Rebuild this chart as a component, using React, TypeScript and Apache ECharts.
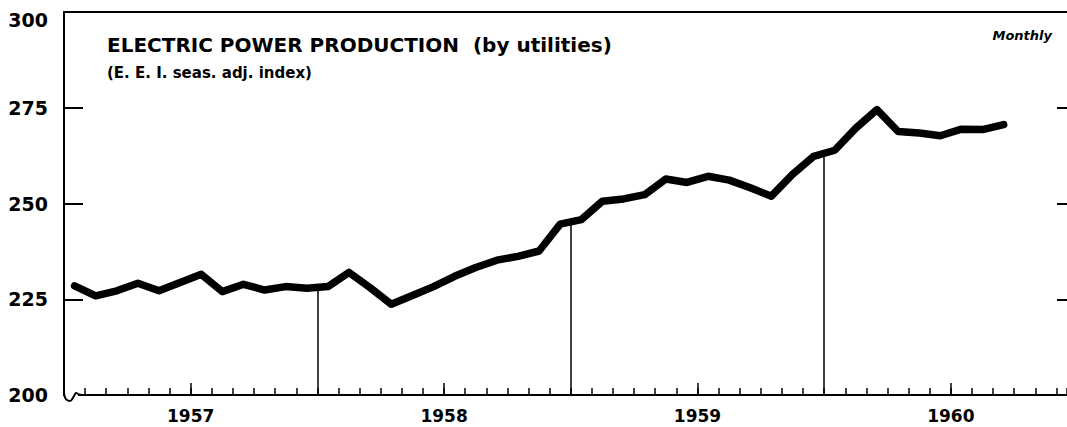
import React, { useEffect, useRef } from "react";
import * as echarts from "echarts";

const years = ["1957", "1958", "1959", "1960"];
const yearMidMonths = [6, 18, 30, 42];
const yearEndMonths = [12, 24, 36];
const yTicks = [200, 225, 250, 275, 300];

const values1957 = [228.5, 225.9, 227.2, 229.2, 227.2, 229.4, 231.5, 227.0, 228.9, 227.4, 228.3, 227.9];
const values1958 = [228.3, 232.0, 228.0, 223.7, 226.0, 228.3, 231.0, 233.3, 235.2, 236.2, 237.6, 244.6];
const values1959 = [245.8, 250.6, 251.2, 252.3, 256.4, 255.5, 257.1, 256.1, 254.1, 251.9, 257.6, 262.3];
const values1960 = [263.9, 269.7, 274.5, 268.8, 268.4, 267.7, 269.4, 269.3, 270.6];

const values = [...values1957, ...values1958, ...values1959, ...values1960];

const FONT = "DejaVu Sans";

export default function App() {
  const ref = useRef<HTMLDivElement>(null);
  useEffect(() => {
    if (!ref.current) return;
    const chart = echarts.init(ref.current, null, { renderer: "svg" });
    const lineData = values.map((v, i) => [i + 0.5, v]);
    const dropLines = yearEndMonths.map((m) => [
      { coord: [m, yTicks[0]] },
      { coord: [m, (values[m - 1] + values[m]) / 2] },
    ]);
    const yMax = yTicks[yTicks.length - 1];
    chart.setOption({
      animation: false,
      backgroundColor: "#fff",
      grid: { left: 64, right: 0, top: 12, bottom: 32 },
      xAxis: [
        {
          type: "value",
          min: 0,
          max: 47.5,
          interval: 1,
          position: "bottom",
          axisLine: { show: true, onZero: false, lineStyle: { color: "#000", width: 2 } },
          axisTick: { show: true, inside: true, length: 7, lineStyle: { color: "#000", width: 1.5 } },
          axisLabel: { show: false },
          splitLine: { show: false },
        },
        {
          type: "value",
          min: 0,
          max: 47.5,
          position: "bottom",
          axisLine: { show: false, onZero: false },
          axisTick: {
            show: true,
            inside: true,
            length: 12,
            customValues: yearMidMonths,
            lineStyle: { color: "#000", width: 1.5 },
          },
          axisLabel: {
            show: true,
            customValues: yearMidMonths,
            formatter: (v: number) => years[yearMidMonths.indexOf(Math.round(v))] ?? "",
            color: "#000",
            fontFamily: FONT,
            fontWeight: "bold",
            fontSize: 17,
            margin: 12,
          },
          splitLine: { show: false },
        },
        {
          type: "value",
          min: 0,
          max: 47.5,
          position: "top",
          axisLine: { show: true, onZero: false, lineStyle: { color: "#000", width: 2 } },
          axisTick: { show: false },
          axisLabel: { show: false },
          splitLine: { show: false },
        },
      ],
      yAxis: [
        {
          type: "value",
          min: 200,
          max: 300,
          interval: 25,
          position: "left",
          axisLine: { show: true, onZero: false, lineStyle: { color: "#000", width: 2 } },
          axisTick: { show: true, inside: true, length: 19, lineStyle: { color: "#000", width: 2 } },
          axisLabel: {
            color: "#000",
            fontFamily: FONT,
            fontWeight: "bold",
            fontSize: 19,
            margin: 16,
            formatter: (v: number) => (v === yMax ? `{top|${v}}` : `${v}`),
            rich: {
              top: {
                color: "#000",
                fontFamily: FONT,
                fontWeight: "bold",
                fontSize: 19,
                padding: [16, 0, 0, 0],
              },
            },
          },
          splitLine: { show: false },
        },
        {
          type: "value",
          min: 200,
          max: 300,
          interval: 25,
          position: "right",
          axisLine: { show: false, onZero: false },
          axisTick: { show: true, inside: true, length: 10, lineStyle: { color: "#000", width: 2 } },
          axisLabel: { show: false },
          splitLine: { show: false },
        },
      ],
      series: [
        {
          type: "line",
          xAxisIndex: 0,
          yAxisIndex: 0,
          data: [],
          z: 1,
          markLine: {
            silent: true,
            symbol: "none",
            label: { show: false },
            lineStyle: { color: "#000", width: 1.5, type: "solid" },
            data: dropLines,
          },
        },
        {
          type: "line",
          xAxisIndex: 0,
          yAxisIndex: 0,
          data: lineData,
          showSymbol: false,
          symbol: "none",
          z: 3,
          lineStyle: { color: "#000", width: 7.5, join: "round", cap: "round" },
        },
      ],
      graphic: [
        {
          type: "text",
          left: 107,
          top: 35,
          style: {
            text: "ELECTRIC POWER PRODUCTION  (by utilities)",
            fill: "#000",
            font: `bold 20px "${FONT}"`,
          },
        },
        {
          type: "text",
          left: 107,
          top: 65,
          style: {
            text: "(E. E. I. seas. adj. index)",
            fill: "#000",
            font: `bold 15px "${FONT}"`,
          },
        },
        {
          type: "text",
          right: 15,
          top: 29,
          style: {
            text: "Monthly",
            fill: "#000",
            font: `italic bold 13px "${FONT}"`,
          },
        },
        {
          type: "rect",
          shape: { x: 65, y: 392, width: 13, height: 6 },
          style: { fill: "#fff" },
          z: 50,
        },
        {
          type: "polyline",
          shape: {
            points: [
              [64, 388],
              [64.5, 396],
              [67, 400],
              [71, 400.5],
              [74, 396],
              [76, 393],
              [79, 394.5],
              [82, 395],
            ],
            smooth: 0.3,
          },
          style: { stroke: "#000", lineWidth: 2, fill: "none" },
          z: 51,
        },
      ],
    });
    return () => chart.dispose();
  }, []);
  return (
    <div
      ref={ref}
      style={{ position: "fixed", left: 0, top: 0, width: 1067, height: 427, background: "#fff" }}
    />
  );
}
